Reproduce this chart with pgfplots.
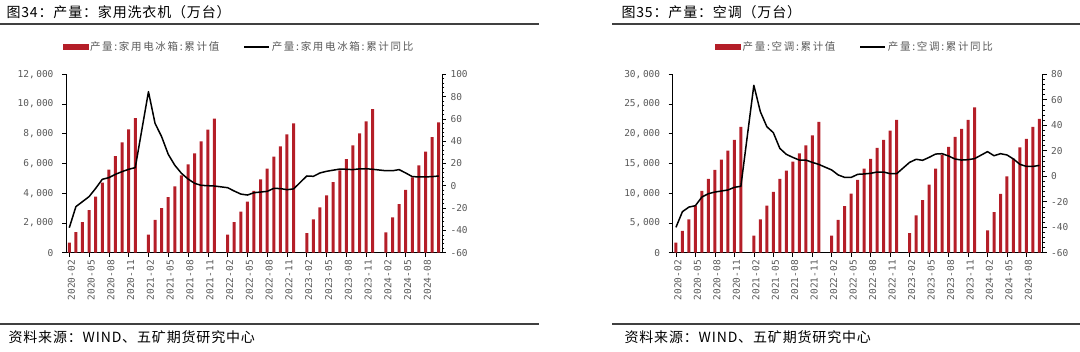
\documentclass[border=0pt]{standalone}
\usepackage{fontspec}
\setmainfont{Noto Sans CJK SC}
\newfontfamily\tickfont{DejaVu Sans Mono}
\newfontfamily\titlefont[LetterSpace=6]{Noto Sans CJK SC}
\newfontfamily\legfont[LetterSpace=16]{Noto Sans CJK SC}
\usepackage{pgfplots}
\pgfplotsset{compat=1.18}
\definecolor{barred}{RGB}{180,30,40}
\definecolor{tickgray}{RGB}{89,89,89}
\definecolor{rulegray}{RGB}{64,64,64}

\pgfplotstableread{
x y
0 670
1 1390
2 2060
3 2870
4 3770
5 4710
6 5580
7 6500
8 7420
9 8300
10 9060
12 1210
13 2200
14 3000
15 3740
16 4460
17 5200
18 5940
19 6680
20 7490
21 8270
22 9010
24 1210
25 2060
26 2760
27 3430
28 4150
29 4930
30 5650
31 6460
32 7150
33 7960
34 8700
36 1320
37 2240
38 3050
39 3860
40 4750
41 5540
42 6300
43 7220
44 8030
45 8830
46 9660
48 1370
49 2380
50 3270
51 4220
52 5070
53 5870
54 6790
55 7780
56 8770
}\fridgebar

\pgfplotstableread{
x y
0 -37.6
1 -18.7
2 -14.2
3 -9.7
4 -2.3
5 5.8
6 7.3
7 10.3
8 12.7
9 14.8
10 16.3
12 84.4
13 56.0
14 44.0
15 28.2
16 18.4
17 11.2
18 6.1
19 2.2
20 0.4
21 0.1
22 -0.2
24 -1.7
25 -4.7
26 -7.4
27 -8.3
28 -6.2
29 -5.6
30 -5.0
31 -2.3
32 -2.5
33 -3.5
34 -2.8
36 8.8
37 8.5
38 11.5
39 13.0
40 14.0
41 15.0
42 14.8
43 14.5
44 15.2
45 15.3
46 14.8
48 13.5
49 13.5
50 14.5
51 11.5
52 8.2
53 8.0
54 8.0
55 8.2
56 8.8
}\fridgeyoy

\pgfplotstableread{
x y
0 1680
1 3650
2 5610
3 7900
4 10380
5 12400
6 13910
7 15650
8 17160
9 18960
10 21140
12 2860
13 5610
14 7900
15 10210
16 12400
17 13800
18 15310
19 16710
20 18060
21 19740
22 21990
24 2860
25 5500
26 7850
27 9930
28 12230
29 14130
30 15760
31 17610
32 18960
33 20530
34 22320
36 3310
37 6280
38 8860
39 11440
40 14130
41 16480
42 17780
43 19460
44 20810
45 22320
46 24450
48 3760
49 6840
50 9870
51 12840
52 15820
53 17720
54 19120
55 21140
56 22490
}\acbar

\pgfplotstableread{
x y
0 -40.1
1 -27.8
2 -24.2
3 -23.1
4 -16.3
5 -13.7
6 -12.4
7 -11.6
8 -10.8
9 -8.7
10 -7.9
12 71.4
13 50.7
14 38.9
15 34.2
16 21.9
17 17.2
18 14.8
19 12.7
20 12.7
21 10.9
22 9.3
24 4.9
25 1.0
26 -0.9
27 -0.9
28 1.5
29 1.8
30 2.3
31 3.3
32 3.3
33 2.0
34 2.0
36 10.9
37 13.3
38 12.5
39 14.8
40 17.4
41 17.7
42 15.9
43 13.5
44 12.7
45 13.0
46 13.8
48 19.3
49 16.1
50 17.7
51 16.7
52 13.5
53 9.3
54 7.7
55 7.7
56 8.5
}\acyoy

\pgfplotsset{
  base/.style={
    scale only axis, height=178.4pt,
    xmin=-0.5, xmax=56.5,
    /pgf/number format/assume math mode=true,
    tick label style={font=\tickfont\fontsize{9.5}{11}\selectfont, text=tickgray},
    axis line style={black, line width=0.6pt},
    tick style={black, line width=0.6pt},
    major tick length=4pt, minor tick length=2.5pt,
    tick align=outside,
    clip=false,
  },
  barax/.style={
    base, axis y line*=left, axis x line*=bottom,
    xtick={0,3,...,54},
    xticklabels={2020-02,2020-05,2020-08,2020-11,2021-02,2021-05,2021-08,2021-11,2022-02,2022-05,2022-08,2022-11,2023-02,2023-05,2023-08,2023-11,2024-02,2024-05,2024-08},
    xticklabel style={rotate=90, anchor=east, xshift=0pt, yshift=-2pt},
    yticklabel style={xshift=-5pt},
    ybar, bar width=3pt,
    scaled y ticks=false,
    /pgf/number format/1000 sep={,\,},
  },
  lineax/.style={
    base, axis y line*=right, axis x line=none,
    minor y tick num=4,
    yticklabel style={xshift=1pt},
    legend columns=2,
    legend style={draw=none, fill=none, anchor=center,
      font=\legfont\fontsize{10.5}{12}\selectfont, text=tickgray,
      /tikz/every even column/.append style={column sep=22pt}},
  },
}

\begin{document}
\begin{tikzpicture}
\path[use as bounding box] (0pt,0pt) rectangle (1080pt,352pt);

% ---------- left panel ----------
\node[anchor=west, font=\titlefont\fontsize{14}{16}\selectfont] at (3pt,340pt) {图34：产量：家用洗衣机（万台）};
\draw[rulegray, line width=1.6pt] (0pt,328pt) -- (539pt,328pt);
\draw[rulegray, line width=1.6pt] (0pt,28pt) -- (539pt,28pt);
\node[anchor=west, font=\titlefont\fontsize{14}{16}\selectfont] at (5pt,15pt) {资料来源：WIND、五矿期货研究中心};

\begin{axis}[barax, at={(66pt,99.3pt)}, anchor=south west, width=376pt,
  ymin=0, ymax=12000, ytick={0,2000,...,12000}]
\addplot[fill=barred, draw=none] table[x=x, y=y] {\fridgebar};
\end{axis}
\begin{axis}[lineax, at={(66pt,99.3pt)}, anchor=south west, width=376pt,
  ymin=-60, ymax=100, ytick={-60,-40,...,100},
  legend style={at={(0.46,1.153)}}]
\addlegendimage{legend image code/.code={\fill[barred] (0pt,-2.5pt) rectangle (25pt,2.5pt);}}
\addlegendentry{产量:家用电冰箱:累计值}
\addplot[black, line width=1.5pt, mark=none, line join=round,
  legend image code/.code={\draw[black, line width=1.5pt] (0pt,0pt) -- (25pt,0pt);}]
  table[x=x, y=y] {\fridgeyoy};
\addlegendentry{产量:家用电冰箱:累计同比}
\end{axis}

% ---------- right panel ----------
\node[anchor=west, font=\titlefont\fontsize{14}{16}\selectfont] at (618pt,340pt) {图35：产量：空调（万台）};
\draw[rulegray, line width=1.6pt] (612pt,328pt) -- (1080pt,328pt);
\draw[rulegray, line width=1.6pt] (612pt,28pt) -- (1080pt,28pt);
\node[anchor=west, font=\titlefont\fontsize{14}{16}\selectfont] at (621pt,15pt) {资料来源：WIND、五矿期货研究中心};

\begin{axis}[barax, at={(672.7pt,99.3pt)}, anchor=south west, width=370pt,
  ymin=0, ymax=30000, ytick={0,5000,...,30000}]
\addplot[fill=barred, draw=none] table[x=x, y=y] {\acbar};
\end{axis}
\begin{axis}[lineax, at={(672.7pt,99.3pt)}, anchor=south west, width=370pt,
  ymin=-60, ymax=80, ytick={-60,-40,...,80},
  legend style={at={(0.493,1.153)}}]
\addlegendimage{legend image code/.code={\fill[barred] (0pt,-2.5pt) rectangle (25pt,2.5pt);}}
\addlegendentry{产量:空调:累计值}
\addplot[black, line width=1.5pt, mark=none, line join=round,
  legend image code/.code={\draw[black, line width=1.5pt] (0pt,0pt) -- (25pt,0pt);}]
  table[x=x, y=y] {\acyoy};
\addlegendentry{产量:空调:累计同比}
\end{axis}
\end{tikzpicture}
\end{document}
